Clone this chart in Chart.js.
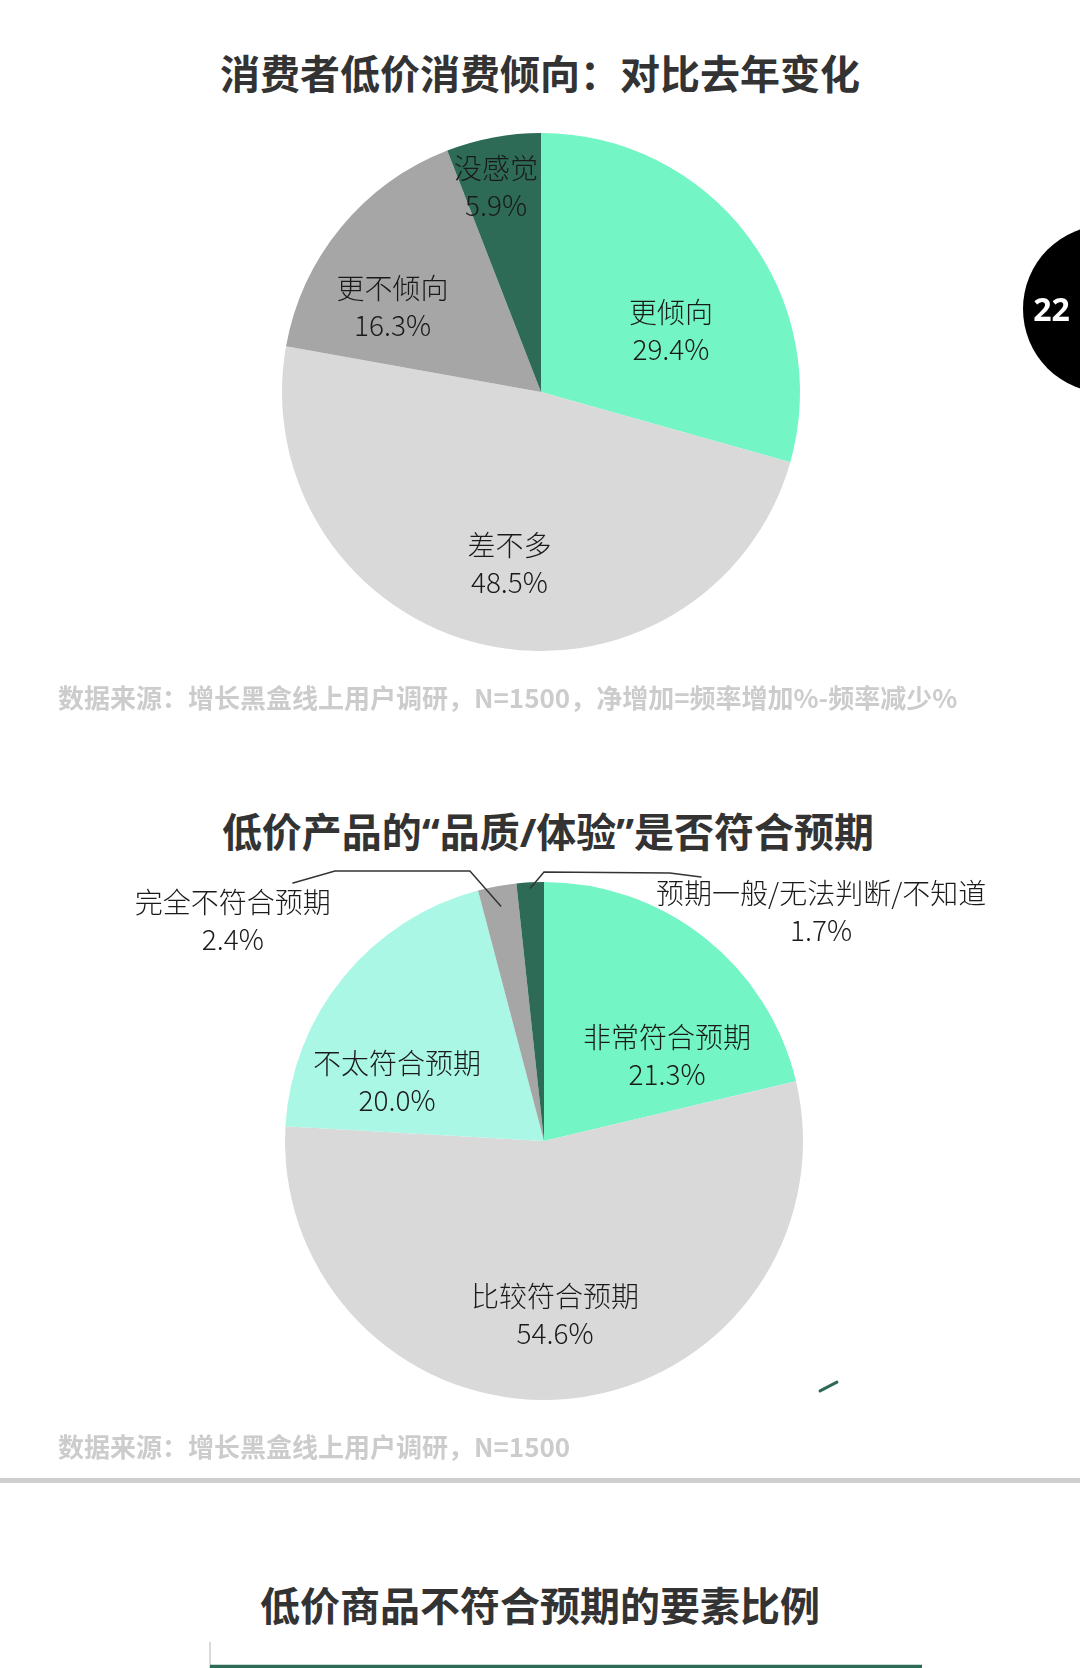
<!DOCTYPE html>
<html>
<head>
<meta charset="utf-8">
<script src="https://cdn.jsdelivr.net/npm/chart.js@4.4.1/dist/chart.umd.min.js"></script>
<style>
  body { margin: 0; width: 1080px; height: 1668px; overflow: hidden; background: #fff; position: relative;
         font-family: "Noto Sans CJK SC", "Noto Sans", sans-serif; }
  .title { position: absolute; left: 0; width: 1080px; text-align: center; font-weight: 700;
           font-size: 40px; line-height: 40px; color: #333; white-space: nowrap; }
  .q { font-family: "Noto Sans", sans-serif; }
  .src { position: absolute; left: 58px; font-size: 26px; line-height: 26px; font-weight: 700;
         color: #cccccc; white-space: nowrap; }
  canvas { position: absolute; left: 0; }
  #badge { position: absolute; left: 1023px; top: 225px; width: 168px; height: 168px; border-radius: 50%; background: #000; }
  #badgeNum { position: absolute; left: 1023px; top: 293px; width: 57px; text-align: center; color: #fff;
              font: 700 32px/1 "Noto Sans", sans-serif; }
  #rule { position: absolute; left: 0; top: 1478px; width: 1080px; height: 5px; background: #cfcfcf; }
  #barBox { position: absolute; left: 0; top: 1642px; width: 1080px; height: 26px; overflow: hidden; }
</style>
</head>
<body>

<div class="title" style="top:52px">消费者低价消费倾向：对比去年变化</div>
<canvas id="pieTrend" width="1080" height="584" style="top:100px"></canvas>
<div class="src" style="top:684px">数据来源：增长黑盒线上用户调研，N=1500，净增加=频率增加%-频率减少%</div>

<div id="badge"></div>
<div id="badgeNum">22</div>

<div class="title" style="top:810px;left:8px">低价产品的<span class="q">“</span>品质<span class="q">/</span>体验<span class="q">”</span>是否符合预期</div>
<canvas id="pieQuality" width="1080" height="580" style="top:851px"></canvas>
<div class="src" style="top:1433px">数据来源：增长黑盒线上用户调研，N=1500</div>

<div id="rule"></div>

<div class="title" style="top:1584px">低价商品不符合预期的要素比例</div>
<div id="barBox"><canvas id="barFactors" width="1080" height="120" style="top:0"></canvas></div>

<script>
// 消费者低价消费倾向
const trendLabels = ['更倾向', '差不多', '更不倾向', '没感觉'];
const trendValues = [29.4, 48.5, 16.3, 5.9];

// 品质/体验是否符合预期
const qualityLabels = ['非常符合预期', '比较符合预期', '不太符合预期', '完全不符合预期', '预期一般/无法判断/不知道'];
const qualityValues = [21.3, 54.6, 20.0, 2.4, 1.7];

// 不符合预期的要素 - only the top edge of the first bar is on the page
const factorLabels = [''];
const factorValues = [100];

const MINT = '#73f5c5', PALE = '#aaf7e6', LIGHT = '#d9d9d9', GRAY = '#a6a6a6', DARK = '#2e6b56';

// labels placed along each slice's bisector: [radius fraction, angle shift in degrees]
const sliceLabels = {
  id: 'sliceLabels',
  afterDatasetsDraw(chart, args, opts) {
    const ctx = chart.ctx;
    const meta = chart.getDatasetMeta(0);
    const labels = chart.data.labels;
    const values = chart.data.datasets[0].data;
    ctx.save();
    ctx.textAlign = 'center';
    ctx.textBaseline = 'middle';
    ctx.fillStyle = '#1a1a1a';
    ctx.font = '300 28px "Noto Sans CJK SC", sans-serif';
    meta.data.forEach((arc, i) => {
      const p = opts.place[i];
      const r = arc.outerRadius;
      const a = (arc.startAngle + arc.endAngle) / 2 + p[1] * Math.PI / 180;
      const x = arc.x + Math.cos(a) * r * p[0];
      const y = arc.y + Math.sin(a) * r * p[0];
      ctx.fillText(labels[i], x, y - 18);
      ctx.fillText(values[i].toFixed(1) + '%', x, y + 19);
    });
    // leader lines for the thin slices
    (opts.leaders || []).forEach(l => {
      const arc = meta.data[l.slice];
      const r = arc.outerRadius;
      ctx.beginPath();
      ctx.strokeStyle = l.color || '#333';
      ctx.lineWidth = l.width || 1.5;
      ctx.lineCap = 'round';
      if (l.from) {
        const a = (arc.startAngle + arc.endAngle) / 2;
        ctx.moveTo(arc.x + Math.cos(a) * r * l.from, arc.y + Math.sin(a) * r * l.from);
      }
      l.path.forEach((pt, k) => {
        const px = arc.x + pt[0] * r, py = arc.y + pt[1] * r;
        if (k === 0 && !l.from) ctx.moveTo(px, py); else ctx.lineTo(px, py);
      });
      ctx.stroke();
    });
    ctx.restore();
  }
};

function pieConfig(labels, values, colors, padLeft, place, leaders) {
  return {
    type: 'pie',
    data: {
      labels: labels,
      datasets: [{ data: values, backgroundColor: colors, borderWidth: 0, radius: 259 }]
    },
    options: {
      responsive: false,
      animation: false,
      layout: { padding: { left: padLeft } },
      plugins: {
        legend: { display: false },
        tooltip: { enabled: false },
        sliceLabels: { place: place, leaders: leaders }
      }
    },
    plugins: [sliceLabels]
  };
}

new Chart(document.getElementById('pieTrend'), pieConfig(
  trendLabels, trendValues, [MINT, LIGHT, GRAY, DARK], 2,
  [[0.556, 11.6], [0.672, -2.5], [0.661, -9.6], [0.814, -1.7]]
));

new Chart(document.getElementById('pieQuality'), pieConfig(
  qualityLabels, qualityValues, [MINT, LIGHT, PALE, GRAY, DARK], 8,
  [[0.580, 16.7], [0.669, 1.4], [0.613, -17], [1.473, -44.2], [1.390, 53.4]],
  [
    { slice: 3, from: 0.923, path: [[-0.286, -1.042], [-0.807, -1.042], [-0.969, -0.996]] },
    { slice: 4, from: 0.978, path: [[0.0, -1.039], [0.486, -1.035], [0.606, -1.019]] },
    { slice: 4, color: DARK, width: 3, path: [[1.066, 0.965], [1.131, 0.931]] }
  ]
));

new Chart(document.getElementById('barFactors'), {
  type: 'bar',
  data: {
    labels: factorLabels,
    datasets: [{ data: factorValues, backgroundColor: DARK, barThickness: 74 }]
  },
  options: {
    indexAxis: 'y',
    responsive: false,
    animation: false,
    layout: { padding: { left: 210, right: 158, top: 0, bottom: 0 } },
    plugins: { legend: { display: false }, tooltip: { enabled: false } },
    scales: {
      x: { display: false, min: 0, max: 100 },
      y: {
        grid: { display: false, drawTicks: false },
        ticks: { display: false },
        border: { display: true, color: '#d9d9d9', width: 2 }
      }
    }
  }
});
</script>
</body>
</html>
